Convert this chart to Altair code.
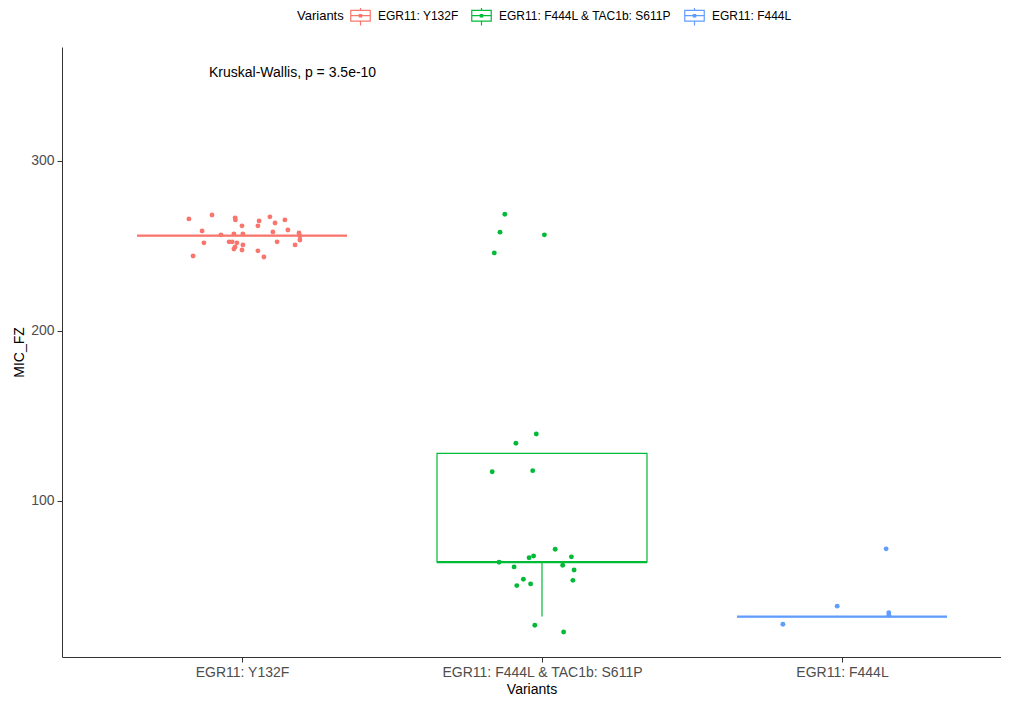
import altair as alt
import pandas as pd

variants = ["EGR11: Y132F", "EGR11: F444L & TAC1b: S611P", "EGR11: F444L"]
colors = ["#F8766D", "#00BA38", "#619CFF"]

red_values = [265.9, 268.2, 266.5, 265.3, 261.8, 264.7, 261.8, 267.1, 263.5, 265.3,
              258.8, 256.5, 257.1, 257.1, 258.2, 259.4, 257.6, 255.9, 251.8, 252.4,
              252.4, 251.8, 250.6, 247.6, 248.2, 249.4, 252.4, 250.6, 253.5, 247.1,
              243.5, 244.1]
red_jitter = [-0.177, -0.100, -0.023, -0.022, 0.000, 0.057, 0.053, 0.093, 0.110, 0.143,
              -0.133, -0.070, -0.027, 0.003, 0.103, 0.153, 0.190, 0.193, -0.127, -0.043,
              -0.033, -0.017, 0.003, 0.000, -0.027, -0.023, 0.117, 0.177, 0.193, 0.053,
              0.073, -0.163]
green_values = [268.6, 258.1, 256.5, 245.9, 139.4, 133.9, 117.2, 117.8, 71.6, 67.1,
                67.6, 66.6, 63.9, 61.2, 62.2, 59.4, 53.9, 50.2, 51.2, 53.3, 26.9, 22.9]
green_jitter = [-0.124, -0.140, 0.008, -0.159, -0.019, -0.087, -0.166, -0.031, 0.044, 0.098,
                -0.028, -0.043, -0.143, -0.093, 0.069, 0.107, -0.062, -0.084, -0.038, 0.103,
                -0.024, 0.072]
blue_values = [71.8, 38.1, 34.3, 32.8, 27.5]
blue_jitter = [0.147, -0.016, 0.156, 0.156, -0.197]

# box statistics
box_lo = [256, 32, 32]
box_q1 = [256, 64, 32]
box_med = [256, 64, 32]
box_q3 = [256, 128, 32]
box_hi = [256, 128, 32]

ann_text = "Kruskal-Wallis, p = 3.5e-10"
ann_x = 0.89
ann_y = 352

rows = []
for i, (vals, jit) in enumerate([(red_values, red_jitter), (green_values, green_jitter), (blue_values, blue_jitter)]):
    for v, j in zip(vals, jit):
        rows.append({"variant": variants[i], "xpos": i + 1 + j, "value": v})
pts = pd.DataFrame(rows)

box = pd.DataFrame({"variant": variants, "pos": [1, 2, 3], "lo": box_lo, "q1": box_q1,
                    "med": box_med, "q3": box_q3, "hi": box_hi})
ann = pd.DataFrame({"x": [ann_x], "y": [ann_y], "t": [ann_text]})

x_scale = alt.Scale(domain=[0.4, 3.53], nice=False, zero=False)
y_scale = alt.Scale(domain=[8.2, 367], nice=False, zero=False)
col_scale = alt.Scale(domain=variants, range=colors)
white_scale = alt.Scale(domain=variants, range=["white", "white", "white"])

label_expr = " : ".join([f"datum.value == {i+1} ? '{v}'" for i, v in enumerate(variants[:-1])]) + f" : '{variants[-1]}'"

x_axis = alt.Axis(values=[1, 2, 3], labelExpr=label_expr, title="Variants", grid=False,
                  tickSize=5, labelFontSize=14, titleFontSize=14, titleFontWeight="normal",
                  labelColor="#4D4D4D", titleColor="black", domainColor="#333333",
                  tickColor="#333333", labelPadding=3, titlePadding=3, labelLimit=0)
y_axis = alt.Axis(values=[100, 200, 300], title="MIC_FZ", grid=False, tickSize=5,
                  labelFontSize=14, titleFontSize=14, titleFontWeight="normal",
                  labelColor="#4D4D4D", titleColor="black", domainColor="#333333",
                  tickColor="#333333", labelPadding=3, titlePadding=4)

glyph = ("M-1,-0.55H1V0.55H-1Z M0,-0.55V-1 M0,0.55V1 M-1,0H1 "
         "M-0.12,-0.12H0.12V0.12H-0.12Z")
legend = alt.Legend(title="Variants", orient="none", legendX=235, legendY=-42,
                    direction="horizontal", titleOrient="left", symbolType=glyph,
                    symbolSize=380, symbolStrokeWidth=1.2,
                    labelFontSize=12, titleFontSize=13, titleFontWeight="normal",
                    labelColor="black", titleColor="black", columnPadding=10,
                    labelOffset=7, titlePadding=6, labelLimit=0)

stroke = alt.Stroke("variant:N", scale=col_scale, legend=legend)
fill = alt.Fill("variant:N", scale=white_scale, legend=legend)

box_base = alt.Chart(box).transform_calculate(left="datum.pos - 0.35", right="datum.pos + 0.35")

rects = box_base.mark_rect(strokeWidth=1.2).encode(
    x=alt.X("left:Q", scale=x_scale, axis=x_axis), x2="right:Q",
    y=alt.Y("q1:Q", scale=y_scale, axis=y_axis), y2="q3:Q", stroke=stroke, fill=fill)
wlo = box_base.mark_rule(strokeWidth=1.2).encode(
    x=alt.X("pos:Q", scale=x_scale), y=alt.Y("lo:Q", scale=y_scale), y2="q1:Q", stroke=stroke)
whi = box_base.mark_rule(strokeWidth=1.2).encode(
    x=alt.X("pos:Q", scale=x_scale), y=alt.Y("q3:Q", scale=y_scale), y2="hi:Q", stroke=stroke)
meds = box_base.mark_rule(strokeWidth=2.2).encode(
    x=alt.X("left:Q", scale=x_scale), x2="right:Q", y=alt.Y("med:Q", scale=y_scale), stroke=stroke)

points = alt.Chart(pts).mark_circle(size=24, opacity=1).encode(
    x=alt.X("xpos:Q", scale=x_scale), y=alt.Y("value:Q", scale=y_scale),
    color=alt.Color("variant:N", scale=col_scale, legend=None))

text = alt.Chart(ann).mark_text(align="left", baseline="middle", fontSize=14, color="black").encode(
    x=alt.X("x:Q", scale=x_scale), y=alt.Y("y:Q", scale=y_scale), text="t:N")

chart = alt.layer(rects, wlo, whi, meds, points, text).properties(
    width=939, height=610,
    autosize=alt.AutoSizeParams(type="none"),
    padding={"left": 54, "top": 39, "right": 0, "bottom": 45},
).configure(font="Liberation Sans").configure_view(stroke=None, strokeWidth=0)

chart.save("out.html", embed_options={"renderer": "svg", "actions": False})
